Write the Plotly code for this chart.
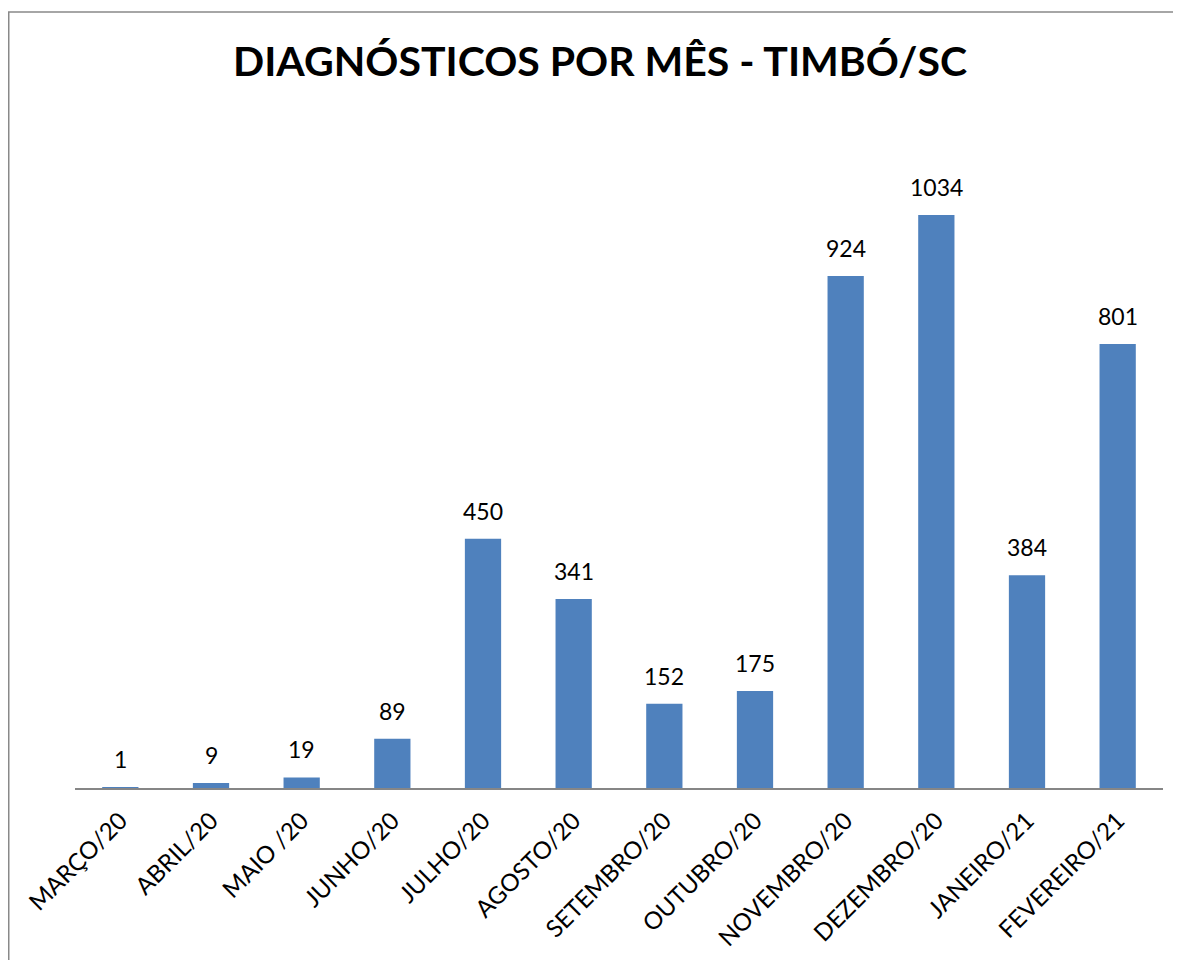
import plotly.graph_objects as go

categories = ["MARÇO/20", "ABRIL/20", "MAIO /20", "JUNHO/20", "JULHO/20", "AGOSTO/20",
              "SETEMBRO/20", "OUTUBRO/20", "NOVEMBRO/20", "DEZEMBRO/20", "JANEIRO/21", "FEVEREIRO/21"]
values = [1, 9, 19, 89, 450, 341, 152, 175, 924, 1034, 384, 801]
title_text = "DIAGNÓSTICOS POR MÊS - TIMBÓ/SC"

OFF = 8  # page body margin
W, H = 1181 - OFF, 960 - OFF
L, T = 75 - OFF, 123 - OFF
R = W - (1163 - OFF)
B = H - (788 - OFF)
pw, ph = W - L - R, H - T - B
FONT = "Lato, Calibri, sans-serif"

fig = go.Figure(go.Bar(
    x=categories, y=values,
    marker=dict(color="#4F81BD", line=dict(width=0)),
    width=0.4,
    cliponaxis=False,
))

for c, v in zip(categories, values):
    fig.add_annotation(x=c, y=v, text=str(v), showarrow=False, yanchor="bottom",
                       yshift=12, font=dict(family=FONT, size=23, color="#000000"))

fig.update_layout(
    width=W, height=H,
    margin=dict(l=L, r=R, t=T, b=B, autoexpand=False),
    paper_bgcolor="white", plot_bgcolor="white",
    showlegend=False,
    title=dict(text=title_text, x=(600 - OFF) / W, xanchor="center", y=1 - 53.5 / H, yanchor="middle",
               yref="container",
               font=dict(family=FONT, size=41, color="#000000", weight="bold")),
    xaxis=dict(showline=True, linecolor="#868686", linewidth=2, ticks="outside", ticklen=7,
               tickcolor="rgba(0,0,0,0)", showgrid=False,
               tickangle=-45, automargin=False,
               tickfont=dict(family=FONT, size=24, color="#000000"),
               zeroline=False),
    yaxis=dict(range=[0, 1200], visible=False, showgrid=False, zeroline=False, automargin=False),
)

# chart border (right/bottom edges lie outside the picture)
fig.add_shape(type="rect", xref="paper", yref="paper",
              x0=(8 - OFF - L + 0.75) / pw, x1=(W + 10 - L) / pw,
              y0=-(B + 10) / ph, y1=(H - B - (12 - OFF)) / ph,
              line=dict(color="#898989", width=1.5), fillcolor="rgba(0,0,0,0)", layer="below")

fig.write_html("out.html")
